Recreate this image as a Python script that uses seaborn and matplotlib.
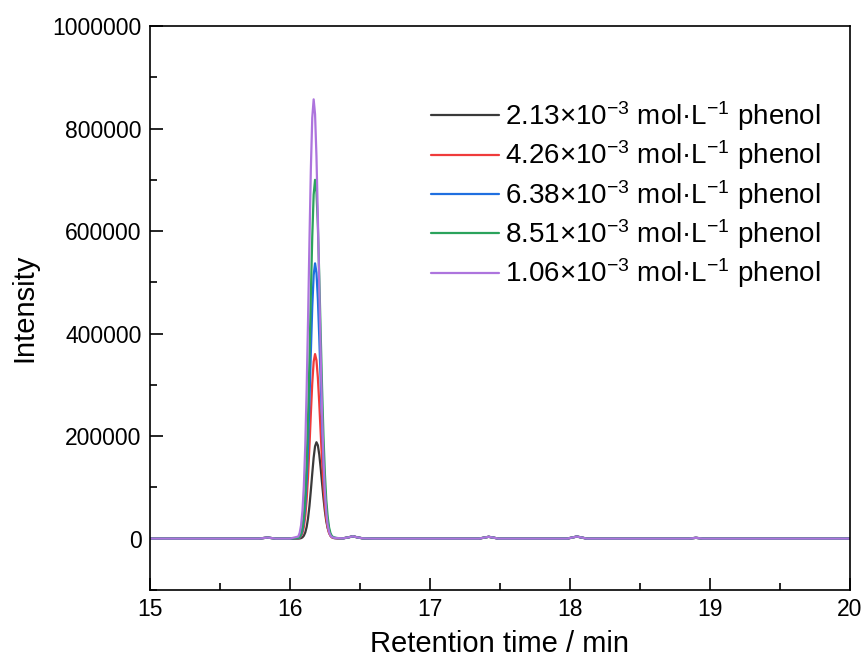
import numpy as np, pandas as pd
import seaborn as sns
import matplotlib
matplotlib.use("Agg")
import matplotlib.pyplot as plt
from matplotlib.ticker import MultipleLocator, FuncFormatter

# retention time grid (min)
t_lead = [15.0, 15.78, 15.84, 15.90, 16.00]
t_peak = [16.06, 16.07, 16.08, 16.09, 16.10, 16.11, 16.12, 16.13, 16.14, 16.15,
          16.16, 16.17, 16.18, 16.19, 16.20, 16.21, 16.22, 16.23, 16.24, 16.25,
          16.26, 16.27, 16.28, 16.29, 16.30, 16.31, 16.32, 16.33, 16.34]
t_tail = [16.38, 16.42, 16.45, 16.48, 16.52, 16.60, 17.35, 17.42, 17.49,
          17.98, 18.05, 18.12, 18.85, 18.90, 18.95, 20.0]
time = t_lead + t_peak + t_tail

lead = [0, 0, 2000, 0, 0]
tail = [500, 2500, 4500, 2500, 500, 0, 0, 3500, 0, 0, 4000, 0, 0, 1500, 0, 0]

black = [0, 200, 900, 2400, 5600, 11800, 22600, 39700, 63700, 94000,
         127000, 158000, 180000, 188000, 182000, 164000, 138000, 108000, 79000, 54000,
         34000, 20500, 11500, 5800, 2800, 1300, 800, 600, 500]
red = [700, 1800, 4700, 10800, 22700, 43200, 76000, 122000, 180000, 244000,
       303000, 345000, 360000, 348000, 314000, 264000, 207000, 152000, 103000, 66000,
       39000, 22000, 11000, 5400, 2500, 1500, 1000, 800, 600]
blue = [1000, 2700, 7000, 16000, 34000, 64000, 113000, 182000, 269000, 364000,
        452000, 514000, 537000, 519000, 468000, 393000, 309000, 226000, 154000, 98000,
        59000, 33000, 17000, 8000, 4000, 2500, 1500, 1000, 1000]
green = [1500, 3500, 9000, 21000, 44000, 84000, 148000, 237000, 350000, 475000,
         589000, 671000, 700000, 676000, 610000, 512000, 402000, 295000, 201000, 128000,
         76000, 43000, 22000, 10500, 5000, 3000, 2000, 1500, 1000]
purple = [4000, 11000, 26000, 54000, 103000, 181000, 291000, 428000, 581000, 721000,
          821000, 857000, 828000, 746000, 627000, 493000, 361000, 246000, 157000, 93000,
          52000, 27000, 13000, 6000, 3000, 2000, 1500, 1000, 1000]

labels = ["2.13×10$^{-3}$ mol·L$^{-1}$ phenol",
          "4.26×10$^{-3}$ mol·L$^{-1}$ phenol",
          "6.38×10$^{-3}$ mol·L$^{-1}$ phenol",
          "8.51×10$^{-3}$ mol·L$^{-1}$ phenol",
          "1.06×10$^{-3}$ mol·L$^{-1}$ phenol"]
colors = ["#3a3a3a", "#ef3b3b", "#1f6fe0", "#2ba35c", "#ad74dd"]

rows = []
for lab, peak in zip(labels, [black, red, blue, green, purple]):
    vals = lead + peak + tail
    for t, v in zip(time, vals):
        rows.append((t, v, lab))
df = pd.DataFrame(rows, columns=["time", "intensity", "sample"])

sns.set_style("ticks")
plt.rcParams['font.family'] = ['Liberation Sans', 'DejaVu Sans']
plt.rcParams['mathtext.fontset'] = 'custom'
plt.rcParams['mathtext.rm'] = 'Liberation Sans'
plt.rcParams['mathtext.it'] = 'Liberation Sans'
plt.rcParams['text.color'] = 'black'
plt.rcParams['axes.labelcolor'] = 'black'

fig = plt.figure(figsize=(8.66, 6.68), dpi=100)
ax = fig.add_axes([0.173, 0.117, 0.8085, 0.844])
sns.lineplot(data=df, x="time", y="intensity", hue="sample", palette=colors,
             hue_order=labels, linewidth=1.6, ax=ax, sort=False, estimator=None)

ax.set_xlim(15, 20)
ax.set_ylim(-100000, 1000000)
ax.xaxis.set_major_locator(MultipleLocator(1))
ax.xaxis.set_minor_locator(MultipleLocator(0.5))
ax.yaxis.set_major_locator(MultipleLocator(200000))
ax.yaxis.set_minor_locator(MultipleLocator(100000))
ax.yaxis.set_major_formatter(FuncFormatter(lambda v, p: "%d" % round(v)))
ax.tick_params(which="both", direction="in", labelsize=16.5, width=1.2, colors="black")
ax.tick_params(which="major", length=9, pad=6)
ax.tick_params(which="minor", length=5)
for s in ax.spines.values():
    s.set_visible(True)
    s.set_linewidth(1.2)
    s.set_color("black")

ax.set_xlabel("Retention time / min", fontsize=21, labelpad=6)
ax.set_ylabel("Intensity", fontsize=21, labelpad=10)

leg = ax.legend(loc="upper right", bbox_to_anchor=(0.974, 0.89), frameon=False,
                fontsize=20, handlelength=2.45, handletextpad=0.22, labelspacing=0.2,
                borderaxespad=0)
for line in leg.get_lines():
    line.set_linewidth(1.6)

fig.savefig("out.png", dpi=100)
